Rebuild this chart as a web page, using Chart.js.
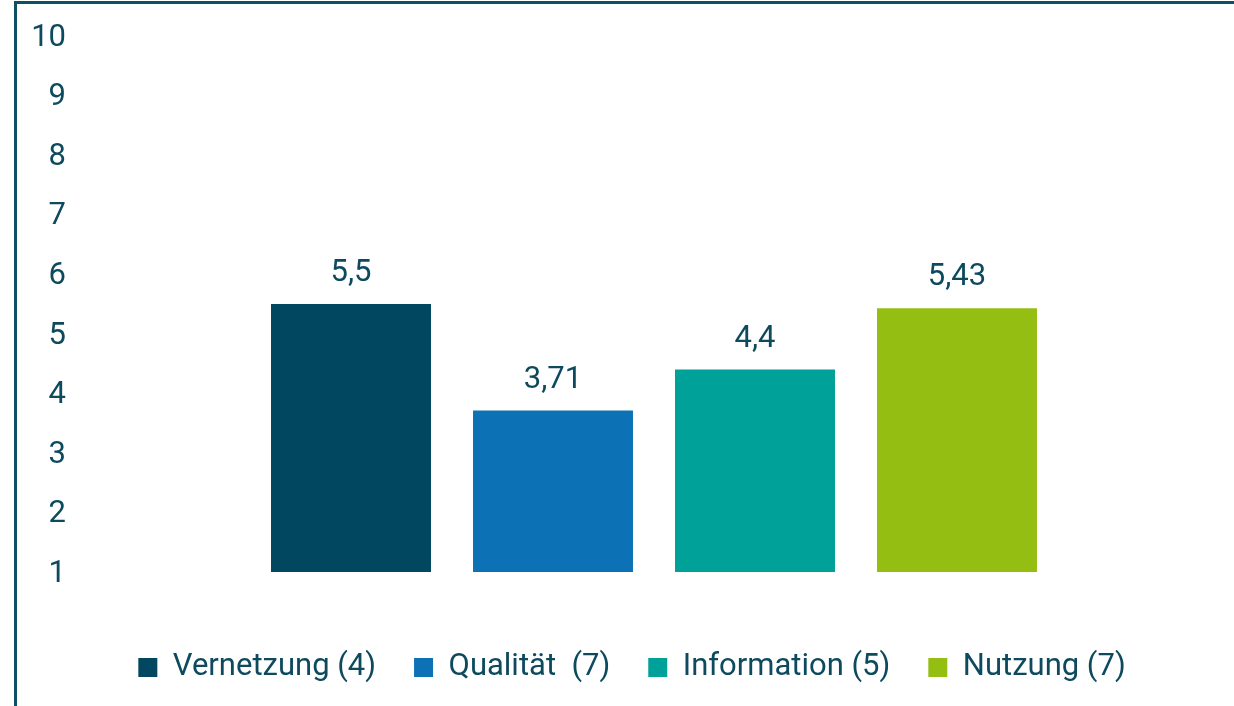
<!DOCTYPE html>
<html lang="de">
<head>
    <meta charset="UTF-8">
    <title>Bewertung</title>
    <script src="https://cdn.jsdelivr.net/npm/chart.js"></script>
    <style>
        body {
            margin: 0;
            background: #fff;
        }

        #frame {
            position: absolute;
            left: 14px;
            top: 1px;
            width: 1218px;
            height: 705px;
            border-left: 3px solid #0f4f66;
            border-top: 3px solid #0f4f66;
        }
    </style>
</head>
<body>
    <div id="frame">
        <canvas id="chart"></canvas>
    </div>
    <script>
        // data
        const categories = ['Vernetzung (4)', 'Qualität  (7)', 'Information (5)', 'Nutzung (7)'];
        const values = [5.5, 3.71, 4.4, 5.43];
        const colors = ['#01475f', '#0d72b5', '#00a198', '#95be13'];
        const yTicks = [1, 2, 3, 4, 5, 6, 7, 8, 9, 10];

        const textColor = '#0e4a5e';
        const fontFamily = 'Roboto, "DejaVu Sans", sans-serif';
        const fontSize = 31;

        // one dataset per category so every bar gets its own legend entry
        const datasets = categories.map((name, i) => ({
            label: name,
            data: values.map((v, j) => (j === i ? v : null)),
            backgroundColor: colors[i],
            borderWidth: 0
        }));

        // values above the bars, with decimal comma
        const valueLabels = {
            id: 'valueLabels',
            afterDatasetsDraw(chart) {
                const ctx = chart.ctx;
                ctx.save();
                ctx.font = fontSize + 'px ' + fontFamily;
                ctx.fillStyle = textColor;
                ctx.textAlign = 'center';
                ctx.textBaseline = 'bottom';
                chart.data.datasets.forEach((ds, i) => {
                    const meta = chart.getDatasetMeta(i);
                    meta.data.forEach((bar, j) => {
                        if (ds.data[j] == null) return;
                        ctx.fillText(String(ds.data[j]).replace('.', ','), bar.x, bar.y - 15);
                    });
                });
                ctx.restore();
            }
        };

        // wide item spacing in the legend, but keep its box short
        const legendHeight = {
            id: 'legendHeight',
            afterInit(chart) {
                const legend = chart.legend;
                const fit = legend.fit;
                legend.fit = function () {
                    fit.call(this);
                    this.height = 92;
                };
            }
        };

        const canvas = document.getElementById('chart');
        canvas.width = 1215;
        canvas.height = 702;

        new Chart(canvas, {
            type: 'bar',
            data: { labels: categories, datasets: datasets },
            options: {
                responsive: false,
                animation: false,
                events: [],
                skipNull: true,
                categoryPercentage: 0.792,
                barPercentage: 1,
                layout: { padding: { top: 32, bottom: 0, left: 15, right: 0 } },
                scales: {
                    x: {
                        grid: { display: false },
                        border: { display: false },
                        ticks: { display: false },
                        afterFit: s => { s.height = 42; }
                    },
                    y: {
                        min: yTicks[0],
                        max: yTicks[yTicks.length - 1],
                        grid: { display: false, drawTicks: false },
                        border: { display: false },
                        afterBuildTicks: s => { s.ticks = yTicks.map(v => ({ value: v })); },
                        ticks: {
                            padding: 184,
                            labelOffset: 2,
                            color: textColor,
                            font: { family: fontFamily, size: fontSize }
                        },
                        afterFit: s => {
                            s.width = 218;
                            s.paddingTop = 0;
                            s.paddingBottom = 0;
                        }
                    },
                    yRight: {
                        position: 'right',
                        grid: { display: false },
                        border: { display: false },
                        ticks: { display: false },
                        afterFit: s => { s.width = 174; }
                    }
                },
                plugins: {
                    legend: {
                        position: 'bottom',
                        labels: {
                            color: textColor,
                            boxWidth: 19,
                            boxHeight: 19,
                            padding: 38,
                            font: { family: fontFamily, size: fontSize }
                        }
                    },
                    tooltip: { enabled: false }
                }
            },
            plugins: [valueLabels, legendHeight]
        });
    </script>
</body>
</html>
